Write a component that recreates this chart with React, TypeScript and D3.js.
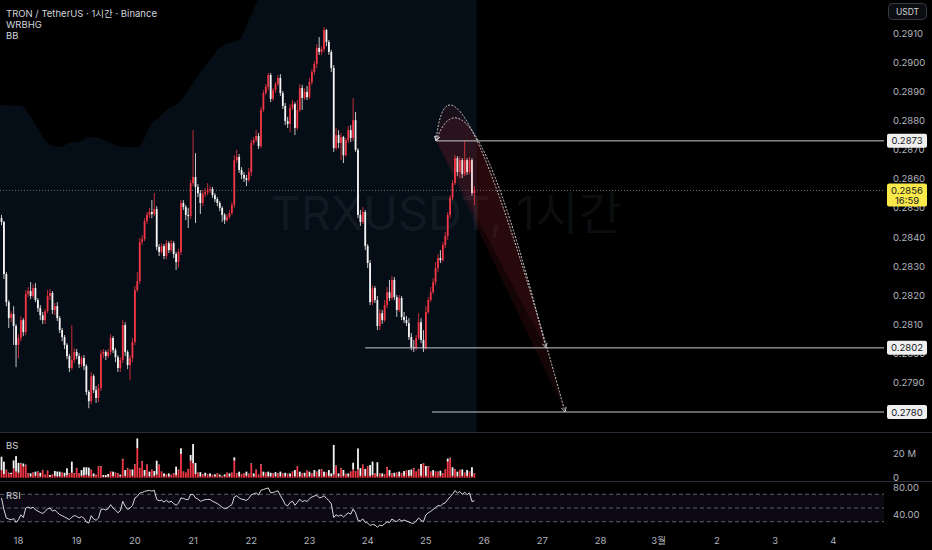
import React from "react";
import * as d3 from "d3";

const W = 932;
const H = 550;
const PLOT_R = 884;
const FONT = "Inter, 'Noto Sans CJK KR', sans-serif";
const RED = "#f23645";
const WHITE = "#f4f4f4";

// hourly candles, prices x 1e5 (open = previous close)
const firstOpen = 28465;
const closes = [
  28452, 28273, 28177, 28122, 28136, 28095, 28030, 28054, 28115, 28074,
  28205, 28215, 28198, 28225, 28184, 28156, 28132, 28115, 28146, 28198,
  28208, 28150, 28163, 28122, 28081, 28057, 28030, 27992, 27951, 27978,
  28006, 27992, 27964, 27985, 27958, 27869, 27837, 27923, 27875, 27848,
  27882, 27999, 28006, 27992, 28006, 28054, 28012, 27988, 27951, 27978,
  28098, 28006, 27961, 27985, 28040, 28218, 28249, 28383, 28393, 28455,
  28476, 28486, 28479, 28496, 28366, 28349, 28369, 28335, 28379, 28355,
  28379, 28342, 28314, 28349, 28517, 28503, 28476, 28472, 28585, 28606,
  28572, 28551, 28517, 28548, 28554, 28561, 28565, 28544, 28530, 28517,
  28500, 28476, 28458, 28469, 28482, 28510, 28664, 28675, 28630, 28613,
  28602, 28596, 28623, 28723, 28733, 28747, 28712, 28836, 28894, 28915,
  28956, 28874, 28904, 28925, 28946, 28894, 28850, 28798, 28788, 28843,
  28856, 28774, 28836, 28911, 28877, 28898, 28880, 28932, 28966, 28994,
  29049, 29035, 29045, 29110, 29069, 29035, 28980, 28705, 28750, 28723,
  28743, 28681, 28733, 28767, 28740, 28801, 28699, 28476, 28452, 28486,
  28369, 28311, 28177, 28225, 28184, 28095, 28139, 28115, 28167, 28211,
  28191, 28253, 28194, 28150, 28191, 28126, 28115, 28105, 28057, 28023,
  28019, 28054, 28108, 28047, 28019, 28143, 28184, 28211, 28246, 28294,
  28328, 28321, 28373, 28404, 28476, 28534, 28585, 28671, 28623, 28664,
  28616, 28664, 28623, 28664, 28551, 28561,
];
const highs = [
  28476, 28455, 28280, 28184, 28146, 28163, 28102, 28067, 28129, 28122,
  28218, 28229, 28246, 28239, 28242, 28191, 28167, 28143, 28153, 28218,
  28222, 28215, 28174, 28177, 28129, 28088, 28064, 28036, 27999, 28098,
  28019, 28016, 28002, 27992, 27995, 27964, 27875, 27937, 27930, 27889,
  27896, 28012, 28016, 28012, 28016, 28067, 28060, 28019, 27995, 27988,
  28115, 28108, 28012, 27995, 28054, 28232, 28280, 28397, 28407, 28465,
  28486, 28500, 28527, 28551, 28506, 28376, 28379, 28376, 28390, 28386,
  28390, 28386, 28349, 28359, 28527, 28527, 28510, 28500, 28596, 28767,
  28688, 28582, 28561, 28561, 28568, 28585, 28575, 28572, 28551, 28537,
  28524, 28506, 28482, 28479, 28493, 28520, 28681, 28699, 28685, 28640,
  28623, 28613, 28637, 28733, 28743, 28767, 28757, 28846, 28904, 28925,
  28963, 28963, 28911, 28932, 28956, 28959, 28901, 28860, 28812, 28856,
  28870, 28863, 28870, 28925, 28922, 28911, 28918, 28946, 28976, 29004,
  29062, 29086, 29055, 29121, 29114, 29076, 29042, 28990, 28774, 28767,
  28757, 28747, 28740, 28781, 28784, 28877, 28829, 28705, 28493, 28503,
  28493, 28376, 28321, 28235, 28232, 28198, 28153, 28150, 28184, 28229,
  28253, 28266, 28263, 28201, 28201, 28198, 28143, 28129, 28122, 28071,
  28047, 28064, 28139, 28122, 28081, 28163, 28194, 28229, 28259, 28314,
  28342, 28355, 28383, 28417, 28486, 28544, 28596, 28681, 28678, 28675,
  28671, 28729, 28671, 28675, 28671, 28575,
];
const lows = [
  28441, 28256, 28163, 28088, 28108, 28030, 27954, 27985, 28043, 28060,
  28064, 28194, 28187, 28191, 28177, 28143, 28115, 28102, 28102, 28139,
  28184, 28136, 28132, 28112, 28071, 28043, 28016, 27981, 27937, 27944,
  27968, 27981, 27951, 27954, 27944, 27858, 27813, 27827, 27865, 27831,
  27834, 27872, 27985, 27978, 27985, 27995, 28002, 27971, 27937, 27937,
  27968, 27992, 27947, 27909, 27971, 28030, 28211, 28239, 28373, 28386,
  28445, 28465, 28465, 28472, 28355, 28335, 28342, 28324, 28324, 28345,
  28349, 28328, 28287, 28294, 28338, 28493, 28458, 28431, 28462, 28575,
  28448, 28537, 28479, 28506, 28537, 28544, 28551, 28534, 28520, 28506,
  28489, 28452, 28445, 28452, 28462, 28476, 28500, 28654, 28620, 28599,
  28589, 28575, 28589, 28609, 28716, 28726, 28702, 28705, 28829, 28887,
  28904, 28863, 28867, 28894, 28918, 28884, 28839, 28784, 28774, 28760,
  28836, 28750, 28767, 28829, 28836, 28870, 28870, 28874, 28922, 28956,
  28980, 29025, 29025, 29035, 29055, 29025, 28966, 28692, 28699, 28705,
  28664, 28654, 28675, 28723, 28726, 28729, 28692, 28465, 28438, 28445,
  28355, 28294, 28167, 28167, 28174, 28081, 28081, 28102, 28108, 28156,
  28181, 28184, 28184, 28126, 28143, 28115, 28105, 28095, 28047, 28012,
  28006, 28012, 28047, 28036, 28006, 28012, 28136, 28177, 28205, 28235,
  28280, 28311, 28314, 28362, 28390, 28465, 28527, 28578, 28609, 28602,
  28602, 28609, 28613, 28616, 28541, 28510,
];

// BS volume, millions: buy part (red, bottom) and sell part (white, top)
const volBuy = [
  6, 3, 6, 3.5, 3, 7.5, 5, 4, 11, 9,
  10, 3.5, 1, 4, 1.5, 4.9, 1, 6, 2.2, 5.4,
  0.7, 2.7, 1.5, 1, 1, 4, 1, 2, 3.5, 4,
  3.5, 7.6, 3.5, 1.5, 2, 2.4, 1.5, 6.2, 1, 2.2,
  8.9, 9, 0.7, 0.5, 0.8, 4.9, 1.5, 4, 3.5, 1,
  14.8, 1.5, 7.6, 6.2, 1.5, 10.3, 23.8, 7.6, 13, 1.5,
  10.3, 1, 6.2, 1.5, 2.5, 10.3, 4.9, 1, 2.7, 1,
  2.2, 3.5, 2, 6.2, 19.2, 4.9, 4, 6.7, 13.8, 11.6,
  3, 4, 1, 2.7, 1.5, 2.7, 1, 2.2, 1, 3.5,
  1, 1.3, 1, 4, 1, 4, 13.8, 3.5, 1, 2.7,
  3.5, 1.5, 3, 11.1, 1, 6.2, 2.5, 10.3, 1.5, 4,
  1, 1, 3.5, 1, 3.5, 1, 3.5, 1, 3, 1,
  4.9, 1, 8.9, 1, 3.5, 1, 5.7, 1, 3.5, 1,
  4.9, 1, 6.7, 1, 4, 1.5, 1, 2.5, 9.4, 1,
  7.6, 1.5, 3, 1, 4.9, 6.7, 4.9, 6.7, 1.5, 10.3,
  1.5, 8.9, 1.5, 2, 3.5, 1, 3.5, 1, 2.7, 8.4,
  1.5, 3.5, 1, 4, 1, 3.5, 1.5, 5.7, 1.5, 1.5,
  7.6, 4.9, 6.7, 1.5, 11.1, 1.5, 9, 4.9, 1.5, 4.9,
  4.9, 1.5, 3.5, 6.7, 13, 15.7, 1.5, 6.7, 1, 6.2,
  1.5, 4, 1.5, 4.9, 1, 3.5,
];
const volSell = [
  11, 10, 0.5, 0.5, 1, 6.5, 12.5, 8, 0.6, 2.5,
  0.5, 0.3, 2.5, 0.3, 3.4, 0.3, 3, 0.3, 0.2, 0.3,
  1.5, 0.2, 3.9, 4, 3.9, 0.2, 3, 5.6, 0.2, 9,
  0.3, 0.3, 0.2, 4.7, 6.4, 6, 6.7, 0.3, 2.5, 0.2,
  0.3, 0.4, 1.5, 1.6, 2.2, 0.2, 3.4, 0.2, 0.2, 1.5,
  0.5, 4.7, 0.3, 0.3, 5.2, 0.4, 8, 0.3, 0.4, 4.7,
  0.3, 3.9, 0.3, 3.9, 11.3, 0.3, 0.2, 2.5, 0.2, 2.5,
  0.2, 0.3, 7, 0.3, 4.6, 0.2, 0.2, 0.3, 4.6, 15.7,
  9, 0.2, 3.5, 0.2, 2.5, 0.2, 2.5, 0.2, 1.7, 0.2,
  1.5, 0.2, 1.7, 0.2, 2.5, 0.2, 2.7, 0.2, 3.9, 0.2,
  0.2, 3.4, 0.3, 0.4, 2.5, 0.3, 0.2, 0.4, 3.4, 0.2,
  3.9, 3, 0.2, 3.5, 0.2, 3.9, 0.2, 3, 0.2, 2.5,
  0.2, 5.2, 0.3, 3.9, 0.2, 3, 0.2, 3.9, 0.2, 5.2,
  0.2, 5.7, 0.3, 3.9, 0.2, 4.7, 2.5, 24, 0.4, 2.5,
  0.3, 4.7, 0.2, 2.5, 0.2, 5.4, 0.3, 17, 6.2, 0.3,
  5.6, 0.3, 8.8, 11, 0.2, 11.5, 0.2, 2.5, 0.2, 0.3,
  4.7, 0.2, 3, 0.2, 3.9, 0.2, 3.9, 0.2, 4.7, 5.2,
  0.3, 0.2, 0.3, 9.6, 0.4, 8, 0.4, 0.2, 4.7, 0.2,
  0.2, 4.2, 0.2, 0.2, 2.5, 0.5, 6.9, 0.3, 3.9, 0.2,
  5.2, 0.2, 4.7, 0.2, 7.5, 0.2,
];

const rsi = [
  64.6, 47.6, 35.4, 34, 32.9, 34.5, 29, 33, 40, 36,
  50, 51.5, 49.5, 51, 47.5, 45.5, 43.5, 42, 45, 49,
  50, 45.5, 47, 43.5, 40.5, 38.8, 37, 35, 33, 36.5,
  39, 37.8, 35.5, 37.5, 35, 29.5, 28, 38.8, 33.9, 32,
  35.4, 47.6, 48.5, 47, 49, 54.9, 50, 47, 43, 46,
  59.8, 52.4, 48, 50, 53.5, 64.6, 67, 72, 72.5, 74.4,
  75, 75.9, 74.5, 75.9, 62.5, 60.5, 61.5, 58.5, 61.2, 58.3,
  60, 56.3, 54, 57, 64.6, 64, 62.5, 62.2, 69.5, 70,
  64.6, 63, 59.8, 61, 62.2, 62.5, 62.5, 59.8, 58.3, 56.5,
  54, 51, 49, 50, 52.4, 55, 66, 68, 64.6, 63,
  62.2, 61, 64, 69.5, 70.5, 72, 69, 75.9, 77, 78.3,
  79.3, 72, 72.5, 74, 75, 68, 62.2, 55, 53, 58,
  60, 54, 58, 63, 59, 61, 59.5, 63.5, 66, 67.5,
  68.5, 65, 65.5, 68, 64, 61, 56, 36, 40, 38,
  40, 36.8, 40.2, 43, 41, 48.5, 43, 32, 31, 34,
  29, 28, 24.5, 26, 25, 22, 25, 24.1, 27, 30,
  28.5, 33.9, 31.5, 30, 33.5, 31, 32.5, 31, 29.5, 28,
  27.5, 31, 35.4, 32, 30, 40, 43, 45, 48, 50.5,
  53.5, 53, 56, 57.5, 62.2, 66.5, 70, 75.4, 72, 74,
  70, 73, 69.5, 72, 59.5, 60.5,
];

// BB upper band as read from the shaded background edge: [bar, price x 1e5]
const bbUpper: [number, number][] = [
  [-1, 28853], [8, 28850], [13, 28801], [17, 28743], [20, 28716], [24, 28709],
  [28, 28723], [32, 28726], [36, 28743], [40, 28740], [45, 28723], [50, 28709],
  [56, 28709], [58, 28726], [62, 28791], [65, 28812], [69, 28843], [73, 28860],
  [78, 28915], [82, 28966], [86, 29007], [90, 29049], [95, 29069], [98, 29076],
  [102, 29145], [106, 29220], [110, 29316], [120, 29450], [150, 29500], [196, 29500],
];

const priceTicks = [
  "0.2910", "0.2900", "0.2890", "0.2880", "0.2870", "0.2860", "0.2850",
  "0.2840", "0.2830", "0.2820", "0.2810", "0.2800", "0.2790",
];
const dayLabels = ["18", "19", "20", "21", "22", "23", "24", "25", "26", "27", "28", "3월", "2", "3", "4"];
const firstMidnightBar = 7;
const barsPerDay = 24;

const lastPrice = 0.2856;
const countdown = "16:59";

// drawings: horizontal rays [price, start bar]
const hLines: [number, number][] = [
  [0.2873, 179.2],
  [0.2802, 150],
  [0.278, 177.5],
];
// arcs: start, control, end as [bar, price]
const arcStart: [number, number] = [179.2, 0.2873];
const arcs: { ctrl: [number, number]; end: [number, number] }[] = [
  { ctrl: [185.4, 0.29213], end: [232.4, 0.278] },
  { ctrl: [193.2, 0.29059], end: [224.5, 0.2802] },
];

const App = () => {
  const x = d3.scaleLinear().domain([0, 195]).range([1.5, 1.5 + 2.425 * 195]);
  const yP = d3.scaleLinear().domain([0.278, 0.291]).range([412, 33]);
  const yV = d3.scaleLinear().domain([0, 20]).range([477.7, 453]);
  const yR = d3.scaleLinear().domain([30, 70]).range([521.7, 494.3]);

  const bbArea = d3
    .area<[number, number]>()
    .x((d) => x(d[0]))
    .y0(432)
    .y1((d) => yP(d[1] / 1e5))
    .curve(d3.curveMonotoneX)(bbUpper);

  const rsiPath = d3
    .line<number>()
    .x((_, i) => x(i))
    .y((d) => yR(d))(rsi);

  const arcPaths = arcs.map((a) => {
    const p = d3.path();
    p.moveTo(x(arcStart[0]), yP(arcStart[1]));
    p.quadraticCurveTo(x(a.ctrl[0]), yP(a.ctrl[1]), x(a.end[0]), yP(a.end[1]));
    const open = p.toString();
    p.closePath();
    return { open, closed: p.toString() };
  });

  const txt = { fontFamily: FONT, fontSize: 9.5, fill: "#b2b5be" } as const;

  return (
    <svg
      width={W}
      height={H}
      style={{ position: "absolute", left: 0, top: 0, background: "#000" }}
    >
      <defs>
        <clipPath id="mainClip">
          <rect x={0} y={0} width={PLOT_R} height={432} />
        </clipPath>
        <marker
          id="arr"
          viewBox="0 0 10 10"
          refX={9}
          refY={5}
          markerWidth={6}
          markerHeight={6}
          orient="auto-start-reverse"
          markerUnits="userSpaceOnUse"
        >
          <path d="M1,1 L9,5 L1,9" fill="none" stroke="#d0d0d0" strokeWidth={1.4} />
        </marker>
      </defs>
      <rect x={0} y={0} width={W} height={H} fill="#000" />

      {/* main pane */}
      <g clipPath="url(#mainClip)">
        <path d={bbArea || ""} fill="#050d16" />
        <text
          x={446}
          y={230}
          textAnchor="middle"
          fontFamily={FONT}
          fontSize={47}
          fill="rgba(200,210,230,0.07)"
        >
          TRXUSDT, 1시간
        </text>
        <line
          x1={0}
          x2={PLOT_R}
          y1={yP(lastPrice)}
          y2={yP(lastPrice)}
          stroke="#6a6d78"
          strokeWidth={1}
          strokeDasharray="1,2"
        />
        {closes.map((c, i) => {
          const o = i === 0 ? firstOpen : closes[i - 1];
          const up = c >= o;
          const col = up ? RED : WHITE;
          const yo = yP(o / 1e5);
          const yc = yP(c / 1e5);
          const cx = x(i);
          return (
            <g key={i}>
              <line
                x1={cx}
                x2={cx}
                y1={yP(highs[i] / 1e5)}
                y2={yP(lows[i] / 1e5)}
                stroke={col}
                strokeWidth={0.8}
              />
              <rect
                x={cx - 0.9}
                width={1.8}
                y={Math.min(yo, yc)}
                height={Math.max(0.8, Math.abs(yc - yo))}
                fill={col}
              />
            </g>
          );
        })}
        {arcPaths.map((a, i) => (
          <path key={"f" + i} d={a.closed} fill="rgba(242,54,69,0.085)" stroke="none" />
        ))}
        {hLines.map(([p, k], i) => (
          <line
            key={"h" + i}
            x1={x(k)}
            x2={PLOT_R}
            y1={yP(p)}
            y2={yP(p)}
            stroke="#c8cad0"
            strokeWidth={1}
          />
        ))}
        {arcPaths.map((a, i) => (
          <path
            key={"a" + i}
            d={a.open}
            fill="none"
            stroke="#d0d0d0"
            strokeWidth={1}
            strokeDasharray="2,1.5"
            markerEnd="url(#arr)"
            markerStart="url(#arr)"
          />
        ))}
      </g>

      {/* header */}
      <g fontFamily={FONT} fontSize={9.5} fill="#d1d4dc">
        <text x={6} y={17}>TRON / TetherUS · 1시간 · Binance</text>
        <text x={6} y={28}>WRBHG</text>
        <text x={6} y={39}>BB</text>
      </g>

      {/* price axis */}
      <rect x={888.5} y={3.5} width={38} height={16} rx={4} fill="#0c0d10" stroke="#363a45" />
      <text x={907.5} y={14.5} textAnchor="middle" fontFamily={FONT} fontSize={8.5} fill="#d1d4dc">
        USDT
      </text>
      {priceTicks.map((t) => (
        <text key={t} x={893} y={yP(+t) + 3.5} {...txt}>
          {t}
        </text>
      ))}
      {hLines.map(([p], i) => (
        <g key={"hl" + i}>
          <rect x={887} y={yP(p) - 7} width={40} height={14} rx={2} fill="#f0f0f0" />
          <text
            x={907}
            y={yP(p) + 3.5}
            textAnchor="middle"
            fontFamily={FONT}
            fontSize={9.5}
            fill="#131722"
          >
            {p.toFixed(4)}
          </text>
        </g>
      ))}
      <rect x={887} y={yP(lastPrice) - 7} width={40} height={23} rx={2} fill="#fbe94a" />
      <text x={907} y={yP(lastPrice) + 3.5} textAnchor="middle" fontFamily={FONT} fontSize={9.5} fill="#131722">
        {lastPrice.toFixed(4)}
      </text>
      <text x={907} y={yP(lastPrice) + 14} textAnchor="middle" fontFamily={FONT} fontSize={9.5} fill="#131722">
        {countdown}
      </text>

      {/* pane separators */}
      <line x1={0} x2={W} y1={432.5} y2={432.5} stroke="#2a2e39" />
      <line x1={0} x2={W} y1={481.5} y2={481.5} stroke="#2a2e39" />

      {/* volume pane */}
      <text x={6} y={449} fontFamily={FONT} fontSize={9.5} fill="#d1d4dc">BS</text>
      {volBuy.map((b, i) => (
        <g key={"v" + i}>
          <rect x={x(i) - 0.9} width={1.8} y={yV(b)} height={yV(0) - yV(b)} fill={RED} />
          <rect
            x={x(i) - 0.9}
            width={1.8}
            y={yV(b + volSell[i])}
            height={yV(b) - yV(b + volSell[i])}
            fill={WHITE}
          />
        </g>
      ))}
      <text x={893} y={yV(20) + 3.5} {...txt}>20 M</text>
      <text x={893} y={yV(0) + 3.5} {...txt}>0</text>

      {/* RSI pane */}
      <rect x={0} y={yR(70)} width={PLOT_R} height={yR(30) - yR(70)} fill="rgba(126,87,194,0.1)" />
      {[70, 50, 30].map((v) => (
        <line
          key={v}
          x1={0}
          x2={PLOT_R}
          y1={yR(v)}
          y2={yR(v)}
          stroke="#5d606b"
          strokeDasharray="4,3"
        />
      ))}
      <text x={6} y={499} fontFamily={FONT} fontSize={9.5} fill="#d1d4dc">RSI</text>
      <path d={rsiPath || ""} fill="none" stroke="#d8d8dc" strokeWidth={1} />
      <text x={893} y={yR(80) + 3.5} {...txt}>80.00</text>
      <text x={893} y={yR(40) + 3.5} {...txt}>40.00</text>

      {/* time axis */}
      {dayLabels.map((d, i) => (
        <text
          key={d + i}
          x={x(firstMidnightBar + barsPerDay * i)}
          y={544}
          textAnchor="middle"
          {...txt}
        >
          {d}
        </text>
      ))}
    </svg>
  );
};

export default App;
